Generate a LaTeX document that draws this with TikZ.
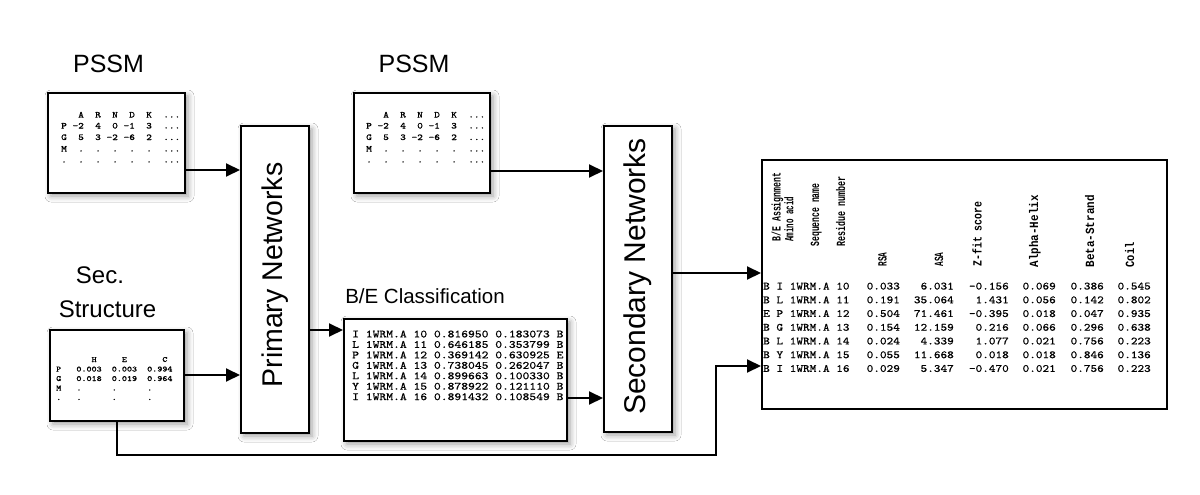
\documentclass[tikz,border=0pt]{standalone}
\usepackage{fontspec}
\usepackage{graphicx}
\setmainfont{Liberation Sans}
\newfontfamily\hdrfont{Liberation Mono}
\newfontfamily\dmono{Latin Modern Mono}[FakeBold=0.6]
\usetikzlibrary{arrows.meta,shadows.blur}
\newcommand\mt[3]{\scalebox{#2}[1]{\fontsize{#1}{#1}\selectfont\dmono\frenchspacing #3}}
\newcommand\hd[2]{\resizebox{#1pt}{\height}{\fontsize{12.5}{12.5}\selectfont\hdrfont\bfseries #2}}
\newcommand\tdots{...}
\begin{document}
\begin{tikzpicture}[x=1pt,y=-1pt,
  box/.style={draw, line width=2pt, fill=white, inner sep=0pt, anchor=north west,
    blur shadow={shadow xshift=3pt, shadow yshift=-3pt, shadow blur radius=6pt, shadow opacity=40}},
  plainbox/.style={draw, line width=2pt, fill=white, inner sep=0pt, anchor=north west},
  arr/.style={line width=2pt, -{Triangle[length=14pt,width=13pt]}},
  cell/.style={inner sep=0pt},
  hdr/.style={rotate=90, anchor=base west, inner sep=0pt},
  lbl/.style={inner sep=0pt, anchor=base}]
\useasboundingbox (0,0) rectangle (1200,495);
\fill[white] (0,0) rectangle (1200,495);

% boxes
\node[box, minimum width=137pt, minimum height=100pt] (pssm1) at (47,92) {};
\node[box, minimum width=136pt, minimum height=100pt] (pssm2) at (353,92) {};
\node[box, minimum width=134pt, minimum height=91pt] (sec) at (49,329) {};
\node[box, minimum width=68pt, minimum height=307pt] (prim) at (240,125) {};
\node[box, minimum width=68pt, minimum height=306pt] (secn) at (603,125) {};
\node[box, minimum width=223pt, minimum height=122pt] (bec) at (343,318) {};
\node[plainbox, minimum width=405pt, minimum height=249pt] (out) at (761,159) {};

% labels
\node[lbl, font=\fontsize{25}{30}\selectfont] (l1) at (108.5,73) {PSSM};
\node[lbl, font=\fontsize{25}{30}\selectfont] (l2) at (414,73) {PSSM};
\node[lbl, font=\fontsize{24}{28}\selectfont] (l3) at (100,283) {Sec.};
\node[lbl, font=\fontsize{24}{28}\selectfont] (l4) at (107.5,317) {Structure};
\node[lbl, font=\fontsize{20.5}{24}\selectfont] (l5) at (425,303) {B/E Classification};
\node[lbl, rotate=90, font=\fontsize{28.5}{32}\selectfont] (l6) at (282,275) {Primary Networks};
\node[lbl, rotate=90, font=\fontsize{30}{34}\selectfont] (l7) at (645,276.5) {Secondary Networks};

% PSSM matrices
\foreach \t/\yy [count=\i] in {~~~A~~R~~N~~D~~K~~\tdots/117.5,
  P~-2~~4~~0~-1~~3~~\tdots/128.5, G~~5~~3~-2~-6~~2~~\tdots/140,
  M~~.~~.~~.~~.~~.~~\tdots/151.5, .~~.~~.~~.~~.~~.~~\tdots/162.5}{
  \node[cell, anchor=base west] (pa\i) at (61,\yy) {\mt{9}{1.2}{\t}};
  \node[cell, anchor=base west] (pb\i) at (366,\yy) {\mt{9}{1.2}{\t}};
}

% Secondary structure matrix
\foreach \t/\yy [count=\i] in {~~~~~~~H~~~~~E~~~~~~~C/362,
  P~~~0.003~~0.003~~0.994/371.5, G~~~0.018~~0.019~~0.964/381,
  M~~~.~~~~~~.~~~~~~./390.5, .~~~.~~~~~~.~~~~~~./400}{
  \node[cell, anchor=base west] (sr\i) at (56,\yy) {\mt{8}{1.19}{\t}};
}

% B/E classification
\foreach \t [count=\i] in {I~1WRM.A~10~0.816950~0.183073~B,
  L~1WRM.A~11~0.646185~0.353799~B, P~1WRM.A~12~0.369142~0.630925~E,
  G~1WRM.A~13~0.738045~0.262047~B, L~1WRM.A~14~0.899663~0.100330~B,
  Y~1WRM.A~15~0.878922~0.121110~B, I~1WRM.A~16~0.891432~0.108549~B}{
  \pgfmathsetmacro\yy{337.4+10.45*(\i-1)}
  \node[cell, anchor=base west] (br\i) at (352,\yy) {\mt{11}{1.18}{\t}};
}

% output table header
\node[hdr] (h1) at (780.5,241.7) {\hd{69}{B/E Assignment}};
\node[hdr] (h2) at (793.3,241.7) {\hd{45}{Amino acid}};
\node[hdr] (h3) at (819,246.7) {\hd{63}{Sequence name}};
\node[hdr] (h4) at (845,246.7) {\hd{70}{Residue number}};
\node[hdr] (h5) at (886.5,266.7) {\hd{14}{RSA}};
\node[hdr] (h6) at (943,266.7) {\hd{14}{ASA}};
\node[hdr] (h7) at (981.5,266.7) {\hd{65}{Z-fit score}};
\node[hdr] (h8) at (1038,267.5) {\hd{72}{Alpha-Helix}};
\node[hdr] (h9) at (1094,267.5) {\hd{72}{Beta-Strand}};
\node[hdr] (h10) at (1134,267.5) {\hd{25}{Coil}};

% output table rows
\foreach \a/\b/\c/\d/\e/\f/\g [count=\i] in {
  B~I~1WRM.A~10/0.033/6.031/-0.156/0.069/0.386/0.545,
  B~L~1WRM.A~11/0.191/35.064/1.431/0.056/0.142/0.802,
  E~P~1WRM.A~12/0.504/71.461/-0.395/0.018/0.047/0.935,
  B~G~1WRM.A~13/0.154/12.159/0.216/0.066/0.296/0.638,
  B~L~1WRM.A~14/0.024/4.339/1.077/0.021/0.756/0.223,
  B~Y~1WRM.A~15/0.055/11.668/0.018/0.018/0.846/0.136,
  B~I~1WRM.A~16/0.029/5.347/-0.470/0.021/0.756/0.223}{
  \pgfmathsetmacro\yy{289.5+13.73*(\i-1)}
  \node[cell, anchor=base west] (oa\i) at (763,\yy) {\mt{11}{1.15}{\a}};
  \node[cell, anchor=base west] (ob\i) at (866.5,\yy) {\mt{11}{1.15}{\b}};
  \node[cell, anchor=base east] (oc\i) at (954,\yy) {\mt{11}{1.15}{\c}};
  \node[cell, anchor=base east] (od\i) at (1009,\yy) {\mt{11}{1.15}{\d}};
  \node[cell, anchor=base east] (oe\i) at (1056,\yy) {\mt{11}{1.15}{\e}};
  \node[cell, anchor=base east] (of\i) at (1104,\yy) {\mt{11}{1.15}{\f}};
  \node[cell, anchor=base east] (og\i) at (1151,\yy) {\mt{11}{1.15}{\g}};
}

% connectors
\coordinate (y1) at (0,170);
\coordinate (y2) at (0,375);
\coordinate (y3) at (0,330);
\coordinate (y4) at (0,171);
\coordinate (y5) at (0,398);
\coordinate (y6) at (0,273);
\coordinate (s0) at (117,0);
\coordinate (s1) at (716,455);
\coordinate (s2) at (0,366);
\draw[arr] (pssm1.east |- y1) -- (prim.west |- y1);
\draw[arr] (sec.east |- y2) -- (prim.west |- y2);
\draw[arr] (prim.east |- y3) -- (bec.west |- y3);
\draw[arr] (pssm2.east |- y4) -- (secn.west |- y4);
\draw[arr] (bec.east |- y5) -- (secn.west |- y5);
\draw[arr] (secn.east |- y6) -- (out.west |- y6);
\draw[arr] (sec.south -| s0) |- (s1) |- (out.west |- s2);
\end{tikzpicture}
\end{document}
